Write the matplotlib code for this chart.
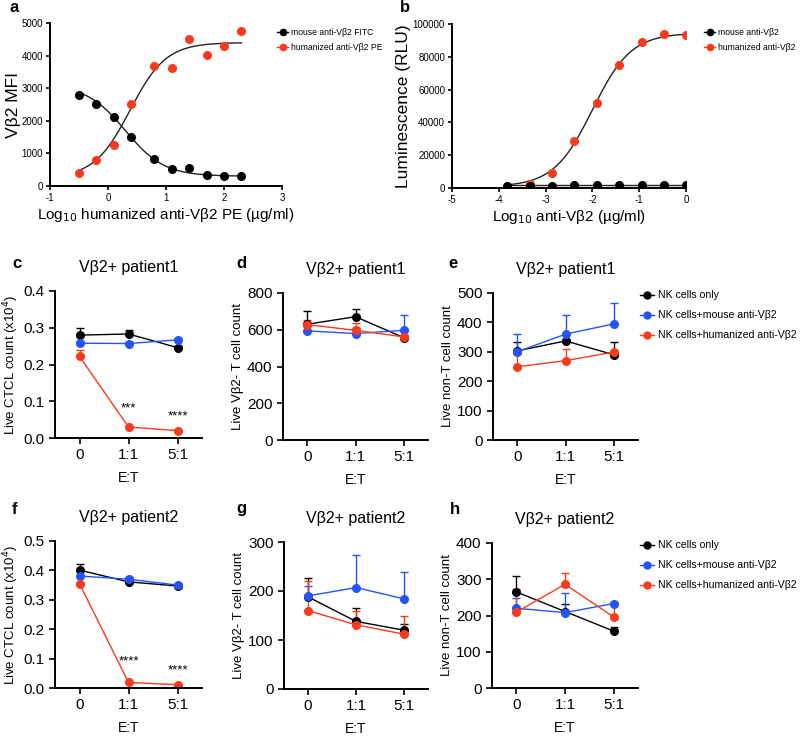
import numpy as np
import matplotlib
matplotlib.use("Agg")
import matplotlib.pyplot as plt
from matplotlib.lines import Line2D

plt.rcParams['font.family'] = ['Liberation Sans', 'DejaVu Sans']
plt.rcParams['axes.linewidth'] = 1.4
plt.rcParams['xtick.major.width'] = 1.2
plt.rcParams['ytick.major.width'] = 1.2
plt.rcParams['axes.unicode_minus'] = False

BLACK = '#000000'
BLUE = '#2553f7'
RED = '#fa3a1c'

# ---------------- data ----------------
# panel a
a_x = [-0.5, -0.2, 0.1, 0.4, 0.8, 1.1, 1.4, 1.7, 2.0, 2.3]
a_mouse = [2800, 2510, 2110, 1510, 823, 535, 545, 350, 310, 310]
a_human = [410, 810, 1245, 2500, 3690, 3630, 4500, 4010, 4280, 4750]
# 4PL fit parameters (bottom, top, logEC50, hill)
a_mouse_fit = (300, 3100, 0.30, -1.3)
a_human_fit = (250, 4400, 0.38, 1.4)

# panel b
b_x = [-3.82, -3.34, -2.86, -2.39, -1.91, -1.43, -0.95, -0.48, 0.0]
b_mouse = [1400, 1500, 1500, 1600, 1700, 1800, 1900, 2000, 2100]
b_human_x = [-3.34, -2.86, -2.39, -1.91, -1.43, -0.95, -0.48, 0.0]
b_human = [2500, 9000, 28500, 52000, 75000, 89000, 94000, 93000]
b_human_fit = (800, 94500, -2.0, 1.05)
b_mouse_fit = (1750, 1750, -2.0, 1.0)

et_labels = ['0', '1:1', '5:1']
series_names = ['NK cells only', 'NK cells+mouse anti-Vβ2', 'NK cells+humanized anti-Vβ2']

# panels c-h: (mean, upper error) per series
c_black = [0.280, 0.283, 0.246]; c_black_err = [0.020, 0.012, 0.004]
c_blue = [0.258, 0.257, 0.267];  c_blue_err = [0.005, 0.003, 0.006]
c_red = [0.222, 0.030, 0.020];   c_red_err = [0.018, 0.002, 0.002]

d_black = [630, 671, 557]; d_black_err = [74, 40, 8]
d_blue = [594, 579, 597];  d_blue_err = [45, 30, 82]
d_red = [628, 597, 561];   d_red_err = [27, 40, 8]

e_black = [303, 337, 290]; e_black_err = [29, 5, 45]
e_blue = [300, 360, 395];  e_blue_err = [59, 66, 72]
e_red = [249, 270, 299];   e_red_err = [45, 40, 5]

f_black = [0.401, 0.361, 0.347]; f_black_err = [0.021, 0.004, 0.004]
f_blue = [0.381, 0.370, 0.350];  f_blue_err = [0.004, 0.006, 0.005]
f_red = [0.355, 0.019, 0.011];   f_red_err = [0.003, 0.002, 0.002]

g_black = [188, 138, 120]; g_black_err = [38, 28, 12]
g_blue = [190, 207, 184];  g_blue_err = [20, 66, 55]
g_red = [160, 131, 112];   g_red_err = [61, 29, 38]

h_black = [265, 211, 157]; h_black_err = [44, 20, 10]
h_blue = [220, 208, 233];  h_blue_err = [27, 55, 3]
h_red = [209, 286, 196];   h_red_err = [63, 32, 37]


def fpl(x, p):
    bottom, top, ec50, hill = p
    return bottom + (top - bottom) / (1 + 10 ** ((ec50 - x) * hill))


W, H = 800, 738
fig = plt.figure(figsize=(W / 100, H / 100), dpi=100)


def add_ax(l, r, t, b):
    return fig.add_axes([l / W, 1 - b / H, (r - l) / W, (b - t) / H])


def style(ax):
    ax.spines['top'].set_visible(False)
    ax.spines['right'].set_visible(False)


# ---------------- panel a ----------------
ax = add_ax(50, 282, 23, 186)
style(ax)
xs = np.linspace(min(a_x), max(a_x), 200)
ax.plot(xs, fpl(xs, a_mouse_fit), color='#222222', lw=1.0)
ax.plot(xs, fpl(xs, a_human_fit), color='#222222', lw=1.0)
ax.plot(a_x, a_mouse, 'o', color=BLACK, ms=5.5, zorder=3)
ax.plot(a_x, a_human, 'o', color=RED, ms=5.5, zorder=3)
ax.set_xlim(-1, 3)
ax.set_ylim(0, 5000)
ax.set_xticks([-1, 0, 1, 2, 3])
ax.set_yticks([0, 1000, 2000, 3000, 4000, 5000])
ax.tick_params(labelsize=7, length=3, pad=2)
ax.set_ylabel('Vβ2 MFI', fontsize=12.5)
ax.yaxis.set_label_coords(-0.125, 0.5)
ax.set_xlabel('Log$_{10}$ humanized anti-Vβ2 PE (µg/ml)', fontsize=11, labelpad=2)
h1 = [Line2D([], [], color=BLACK, marker='o', ms=4.5, lw=1),
      Line2D([], [], color=RED, marker='o', ms=4.5, lw=1)]
ax.legend(h1, ['mouse anti-Vβ2 FITC', 'humanized anti-Vβ2 PE'],
          loc='upper left', bbox_to_anchor=(274 / W, 1 - 25 / H),
          bbox_transform=fig.transFigure, frameon=False, fontsize=6.2,
          handlelength=1.2, handletextpad=0.4, labelspacing=0.7, borderaxespad=0)

# ---------------- panel b ----------------
ax = add_ax(452, 686, 24, 188)
style(ax)
xs = np.linspace(min(b_x), max(b_x), 200)
ax.plot(xs, fpl(xs, b_human_fit), color='#222222', lw=1.0)
ax.plot(xs, fpl(xs, b_mouse_fit), color='#222222', lw=1.0)
ax.plot(b_human_x, b_human, 'o', color=RED, ms=5.5, zorder=3)
ax.plot(b_x, b_mouse, 'o', color=BLACK, ms=5.5, zorder=4)
ax.set_xlim(-5, 0)
ax.set_ylim(0, 100000)
ax.set_xticks([-5, -4, -3, -2, -1, 0])
ax.set_yticks([0, 20000, 40000, 60000, 80000, 100000])
ax.tick_params(labelsize=7, length=3, pad=2)
ax.set_ylabel('Luminescence (RLU)', fontsize=12.5, labelpad=1)
ax.set_xlabel('Log$_{10}$ anti-Vβ2 (µg/ml)', fontsize=11, labelpad=2)
h2 = [Line2D([], [], color=BLACK, marker='o', ms=4.5, lw=1),
      Line2D([], [], color=RED, marker='o', ms=4.5, lw=1)]
ax.legend(h2, ['mouse anti-Vβ2', 'humanized anti-Vβ2'],
          loc='upper left', bbox_to_anchor=(701 / W, 1 - 25 / H),
          bbox_transform=fig.transFigure, frameon=False, fontsize=6.2,
          handlelength=1.2, handletextpad=0.4, labelspacing=0.7, borderaxespad=0)


# ---------------- panels c-h ----------------
def et_panel(box, series, ylim, yticks, ylabel, title, letter, stars=None, legend=None, yfmt=None):
    ax = add_ax(*box)
    style(ax)
    x = np.arange(len(et_labels))
    for (vals, err, col) in series:
        ax.errorbar(x, vals, yerr=[np.zeros(len(err)), err], color=col, lw=1.0,
                    marker='o', ms=5.5, capsize=3, elinewidth=1.0, capthick=1.0)
    ax.set_xlim(-0.5, 2.5)
    ax.set_ylim(*ylim)
    ax.set_yticks(yticks)
    if yfmt:
        ax.set_yticklabels([yfmt.format(v) for v in yticks])
    ax.set_xticks(x)
    ax.set_xticklabels(et_labels)
    ax.tick_params(labelsize=11, length=4)
    ax.set_ylabel(ylabel, fontsize=9.5, labelpad=2)
    ax.set_xlabel('E:T', fontsize=10, labelpad=6)
    ax.set_title(title, fontsize=11.5, pad=14)
    if letter:
        fig.text(letter[1] / W, 1 - letter[2] / H, letter[0], fontsize=12,
                 fontweight='bold', va='center', ha='left')
    if stars:
        for (sx, sy, s) in stars:
            ax.text(sx, sy, s, ha='center', va='center', fontsize=9.5)
    if legend:
        hs = [Line2D([], [], color=c, marker='o', ms=5, lw=1) for c in (BLACK, BLUE, RED)]
        ax.legend(hs, series_names, loc='upper left',
                  bbox_to_anchor=(legend[0] / W, 1 - legend[1] / H),
                  bbox_transform=fig.transFigure, frameon=False, fontsize=7.6,
                  handlelength=1.3, handletextpad=0.35, labelspacing=0.95, borderaxespad=0)
    return ax


ylab_ctcl = 'Live CTCL count (x10$^4$)'
ylab_vb = 'Live Vβ2- T cell count'
ylab_nt = 'Live non-T cell count'

et_panel((55, 202, 291, 438),
         [(c_black, c_black_err, BLACK), (c_blue, c_blue_err, BLUE), (c_red, c_red_err, RED)],
         (0, 0.4), [0, 0.1, 0.2, 0.3, 0.4], ylab_ctcl, 'Vβ2+ patient1', ('c', 12, 263),
         stars=[(1, 0.08, '***'), (2, 0.058, '****')], yfmt='{:.1f}')
et_panel((283, 428, 293, 440),
         [(d_black, d_black_err, BLACK), (d_blue, d_blue_err, BLUE), (d_red, d_red_err, RED)],
         (0, 800), [0, 200, 400, 600, 800], ylab_vb, 'Vβ2+ patient1', ('d', 236, 263))
et_panel((493, 638, 293, 440),
         [(e_black, e_black_err, BLACK), (e_blue, e_blue_err, BLUE), (e_red, e_red_err, RED)],
         (0, 500), [0, 100, 200, 300, 400, 500], ylab_nt, 'Vβ2+ patient1', ('e', 448, 263),
         legend=(636, 286))
et_panel((55, 202, 541, 688),
         [(f_black, f_black_err, BLACK), (f_blue, f_blue_err, BLUE), (f_red, f_red_err, RED)],
         (0, 0.5), [0, 0.1, 0.2, 0.3, 0.4, 0.5], ylab_ctcl, 'Vβ2+ patient2', ('f', 12, 509),
         stars=[(1, 0.089, '****'), (2, 0.059, '****')], yfmt='{:.1f}')
et_panel((284, 428, 542, 689),
         [(g_black, g_black_err, BLACK), (g_blue, g_blue_err, BLUE), (g_red, g_red_err, RED)],
         (0, 300), [0, 100, 200, 300], ylab_vb, 'Vβ2+ patient2', ('g', 236, 509))
et_panel((492, 638, 543, 688),
         [(h_black, h_black_err, BLACK), (h_blue, h_blue_err, BLUE), (h_red, h_red_err, RED)],
         (0, 400), [0, 100, 200, 300, 400], ylab_nt, 'Vβ2+ patient2', ('h', 450, 509),
         legend=(636, 536))

fig.text(10 / W, 1 - 8 / H, 'a', fontsize=12, fontweight='bold', va='center', ha='left')
fig.text(400 / W, 1 - 8 / H, 'b', fontsize=12, fontweight='bold', va='center', ha='left')

fig.savefig('out.png', dpi=100)
